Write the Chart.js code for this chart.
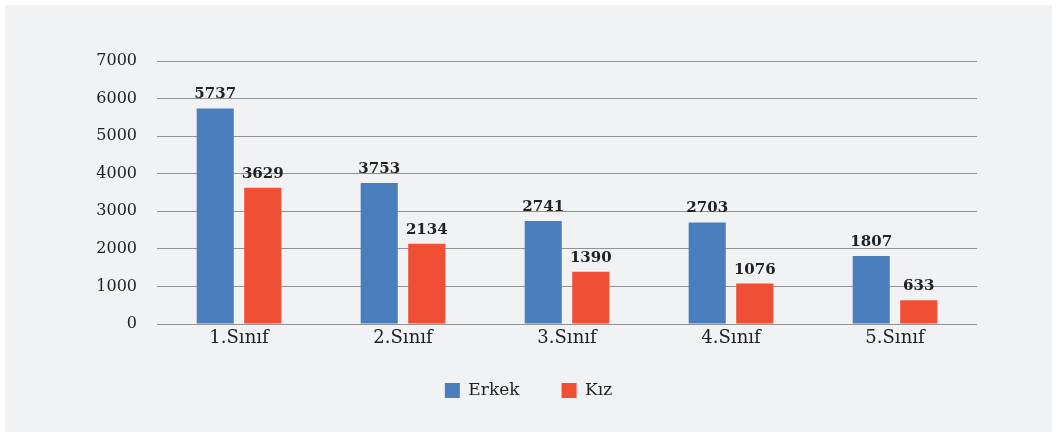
<!DOCTYPE html>
<html>
<head>
<meta charset="utf-8">
<script src="https://cdn.jsdelivr.net/npm/chart.js@4.4.0/dist/chart.umd.min.js"></script>
<style>
  html, body { margin: 0; padding: 0; background: #ffffff; width: 1058px; height: 437px; overflow: hidden; }
  #panel { position: absolute; left: 5px; top: 5px; width: 1047px; height: 427px; background: #f1f2f4; }
  #panel canvas { display: block; }
</style>
</head>
<body>
<div id="panel"><canvas id="c" width="1047" height="427"></canvas></div>
<script>
const categories = ["1.Sınıf", "2.Sınıf", "3.Sınıf", "4.Sınıf", "5.Sınıf"];
const erkek = [5737, 3753, 2741, 2703, 1807];
const kiz = [3629, 2134, 1390, 1076, 633];
const yTicks = [0, 1000, 2000, 3000, 4000, 5000, 6000, 7000];

const FONT = "'DejaVu Serif', serif";

const valueLabels = {
  id: 'valueLabels',
  afterDatasetsDraw(chart) {
    const ctx = chart.ctx;
    ctx.save();
    ctx.font = "bold 15px " + FONT;
    ctx.fillStyle = "#222222";
    ctx.textAlign = "center";
    ctx.textBaseline = "alphabetic";
    chart.data.datasets.forEach((ds, i) => {
      const meta = chart.getDatasetMeta(i);
      meta.data.forEach((bar, j) => {
        ctx.fillText(String(ds.data[j]), bar.x, bar.y - 10);
      });
    });
    // category labels under the x axis
    const xs = chart.scales.x;
    ctx.font = "18px " + FONT;
    ctx.textBaseline = "top";
    chart.data.labels.forEach((lab, j) => {
      ctx.fillText(lab, xs.getPixelForTick(j), xs.top + 5);
    });
    ctx.restore();
  }
};

new Chart(document.getElementById('c'), {
  type: 'bar',
  data: {
    labels: categories,
    datasets: [
      { label: 'Erkek', data: erkek, backgroundColor: '#4a7ebd', categoryPercentage: 0.58, barPercentage: 0.78 },
      { label: 'Kız', data: kiz, backgroundColor: '#f04f36', categoryPercentage: 0.58, barPercentage: 0.78 }
    ]
  },
  options: {
    responsive: false,
    animation: false,
    devicePixelRatio: 1,
    layout: { padding: { left: 0, right: 0, top: 56, bottom: 23 } },
    plugins: {
      legend: {
        position: 'bottom',
        labels: {
          font: { family: FONT, size: 17 },
          color: '#222222',
          boxWidth: 15,
          boxHeight: 15,
          padding: 42
        }
      },
      tooltip: { enabled: false }
    },
    scales: {
      x: {
        grid: { display: false, drawTicks: false },
        border: { display: false },
        afterFit(scale) { scale.height = 16; },
        ticks: { display: false }
      },
      y: {
        min: 0,
        max: 7000,
        afterBuildTicks(scale) { scale.ticks = yTicks.map(v => ({ value: v })); },
        afterFit(scale) { scale.width = 152; },
        grid: { color: '#929292', lineWidth: 1, drawTicks: false },
        border: { display: false },
        ticks: { font: { family: FONT, size: 16 }, color: '#222222', padding: 20, callback: v => String(v) }
      },
      yRight: {
        position: 'right',
        min: 0,
        max: 7000,
        afterFit(scale) { scale.width = 75; },
        grid: { display: false, drawTicks: false },
        border: { display: false },
        ticks: { display: false }
      }
    }
  },
  plugins: [valueLabels]
});
</script>
</body>
</html>
